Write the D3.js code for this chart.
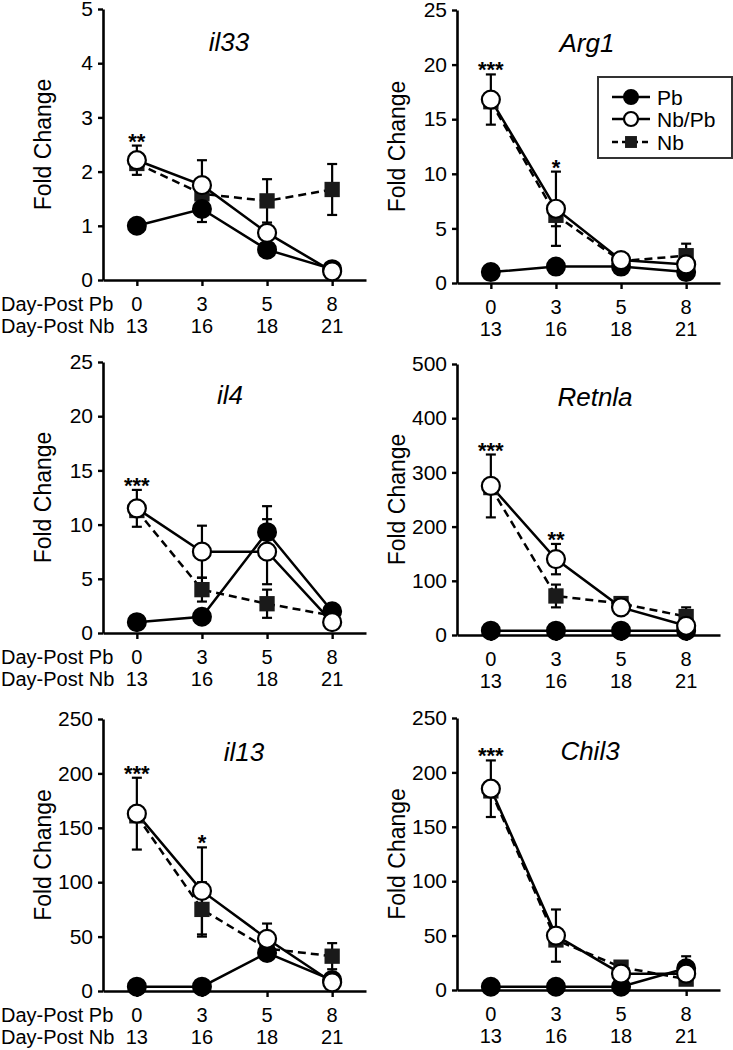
<!DOCTYPE html>
<html>
<head>
<meta charset="utf-8">
<script src="https://cdn.jsdelivr.net/npm/d3@7"></script>
<style>
  html, body { margin: 0; padding: 0; background: #fff; }
  svg { display: block; }
  text { font-family: Arial, "Liberation Sans", Helvetica, sans-serif; fill: #000; }
</style>
</head>
<body>
<svg id="chart" width="733" height="1050"></svg>
<script>
// ---------- DATA ----------
const xPb = ["0", "3", "5", "8"];
const xNb = ["13", "16", "18", "21"];
const genes = ["il33", "Arg1", "il4", "Retnla", "il13", "Chil3"];
const yMax = [5, 25, 25, 500, 250, 250];
const yStep = [1, 5, 5, 100, 50, 50];
const seriesNames = ["Pb", "Nb/Pb", "Nb"];

const pbMean = [
  [1.0, 1.31, 0.56, 0.2],
  [1.0, 1.5, 1.5, 1.0],
  [1.0, 1.5, 9.3, 2.0],
  [8, 8, 8, 8],
  [4, 4, 35, 10],
  [3, 3, 3, 20]
];
const pbErr = [
  [0, 0.24, 0.05, 0.05],
  [0.1, 0.2, 0.2, 0.1],
  [0.1, 0.2, 2.4, 0.3],
  [2, 2, 2, 2],
  [1, 1, 3, 2],
  [1, 1, 1, 11]
];
const nbpbMean = [
  [2.21, 1.75, 0.87, 0.16],
  [16.8, 6.8, 2.1, 1.7],
  [11.5, 7.5, 7.5, 1.0],
  [275, 140, 51, 17],
  [163, 92, 48, 8],
  [185, 50, 15, 15]
];
const nbpbErr = [
  [0.27, 0.46, 0.05, 0.05],
  [2.3, 3.4, 0.3, 0.3],
  [1.7, 2.4, 3.0, 0.2],
  [58, 28, 5, 5],
  [33, 40, 14, 2],
  [26, 24, 3, 3]
];
const nbMean = [
  [2.15, 1.59, 1.46, 1.67],
  [16.6, 6.2, 2.0, 2.5],
  [11.3, 4.0, 2.7, 1.6],
  [272, 72, 58, 34],
  [161, 75, 39, 32],
  [183, 46, 21, 10]
];
const nbErr = [
  [0.1, 0.1, 0.4, 0.47],
  [0.5, 1.0, 0.3, 1.1],
  [0.5, 1.1, 1.3, 0.2],
  [10, 21, 5, 17],
  [5, 25, 5, 12],
  [5, 5, 3, 3]
];
// significance stars above Nb/Pb error bar, per time point
const stars = [
  ["**", "", "", ""],
  ["***", "*", "", ""],
  ["***", "", "", ""],
  ["***", "**", "", ""],
  ["***", "*", "", ""],
  ["***", "", "", ""]
];

// ---------- LAYOUT ----------
const colX = [[103, 366], [457, 720]];
const panelTop = [9, 10, 362, 364, 719, 718];
const panelBottom = [280, 283, 633, 635, 991, 990];
const titleX = [229, 587, 230, 595, 244, 590];

const svg = d3.select("#chart");

function drawMarker(g, type, cx, cy, size) {
  if (type === "Pb") {
    g.append("circle").attr("cx", cx).attr("cy", cy).attr("r", size)
      .attr("fill", "#000").attr("stroke", "#000").attr("stroke-width", 2);
  } else if (type === "Nb/Pb") {
    g.append("circle").attr("cx", cx).attr("cy", cy).attr("r", size)
      .attr("fill", "#fff").attr("stroke", "#000").attr("stroke-width", 2.2);
  } else {
    const s = size * 1.7;
    g.append("rect").attr("x", cx - s / 2).attr("y", cy - s / 2)
      .attr("width", s).attr("height", s).attr("fill", "#1a1a1a");
  }
}

genes.forEach((gene, i) => {
  const col = i % 2;
  const [x0, x1] = colX[col];
  const top = panelTop[i], bottom = panelBottom[i];

  const x = d3.scalePoint().domain(xPb).range([x0, x1]).padding(0.52);
  const y = d3.scaleLinear().domain([0, yMax[i]]).range([bottom, top]);

  const g = svg.append("g");

  // y axis
  const yAxis = d3.axisLeft(y)
    .tickValues(d3.range(0, yMax[i] + yStep[i] / 2, yStep[i]))
    .tickFormat(d3.format("d"))
    .tickSize(5).tickSizeOuter(0).tickPadding(5);
  const ya = g.append("g").attr("transform", `translate(${x0},0)`).call(yAxis);
  ya.selectAll("path").attr("stroke", "#000").attr("stroke-width", 2.6);
  ya.selectAll("line").attr("stroke", "#000").attr("stroke-width", 2.4);
  ya.selectAll("text").attr("font-size", 21).attr("fill", "#000")
    .style("font-family", "Arial, 'Liberation Sans', sans-serif");

  // x axis
  const xAxis = d3.axisBottom(x).tickSize(6).tickSizeOuter(0).tickFormat("");
  const xa = g.append("g").attr("transform", `translate(0,${bottom})`).call(xAxis);
  xa.selectAll("path").attr("stroke", "#000").attr("stroke-width", 2.6);
  xa.selectAll("line").attr("stroke", "#000").attr("stroke-width", 2.4);

  // x labels (two rows)
  xPb.forEach((lab, k) => {
    g.append("text").attr("x", x(lab)).attr("y", bottom + 31)
      .attr("text-anchor", "middle").attr("font-size", 20).text(lab);
    g.append("text").attr("x", x(lab)).attr("y", bottom + 53)
      .attr("text-anchor", "middle").attr("font-size", 20).text(xNb[k]);
  });
  if (col === 0) {
    g.append("text").attr("x", 1).attr("y", bottom + 31)
      .attr("font-size", 20).text("Day-Post Pb");
    g.append("text").attr("x", 1).attr("y", bottom + 53)
      .attr("font-size", 20).text("Day-Post Nb");
  }

  // y label
  const ymid = (top + bottom) / 2;
  g.append("text")
    .attr("transform", `translate(${x0 - 52},${ymid}) rotate(-90)`)
    .attr("text-anchor", "middle").attr("font-size", 23).text("Fold Change");

  // title
  g.append("text").attr("x", titleX[i]).attr("y", top + 42)
    .attr("text-anchor", "middle").attr("font-size", 26)
    .attr("font-style", "italic").text(gene);

  const series = [
    { name: "Nb", mean: nbMean[i], err: nbErr[i], dash: "8,5" },
    { name: "Pb", mean: pbMean[i], err: pbErr[i], dash: null },
    { name: "Nb/Pb", mean: nbpbMean[i], err: nbpbErr[i], dash: null }
  ];

  const line = d3.line().x((d, k) => x(xPb[k])).y(d => y(d));

  // error bars (behind)
  series.forEach(s => {
    s.mean.forEach((m, k) => {
      const e = s.err[k];
      if (e <= 0) return;
      const cx = x(xPb[k]);
      const eg = g.append("g").attr("stroke", "#000").attr("stroke-width", 2.2);
      eg.append("line").attr("x1", cx).attr("x2", cx).attr("y1", y(m - e)).attr("y2", y(m + e));
      eg.append("line").attr("x1", cx - 5).attr("x2", cx + 5).attr("y1", y(m + e)).attr("y2", y(m + e));
      eg.append("line").attr("x1", cx - 5).attr("x2", cx + 5).attr("y1", y(m - e)).attr("y2", y(m - e));
    });
  });

  // lines & markers
  series.forEach(s => {
    g.append("path").datum(s.mean).attr("d", line)
      .attr("fill", "none").attr("stroke", "#000").attr("stroke-width", 2.5)
      .attr("stroke-dasharray", s.dash);
  });
  series.forEach(s => {
    s.mean.forEach((m, k) => drawMarker(g, s.name, x(xPb[k]), y(m), 9));
  });

  // stars
  stars[i].forEach((st, k) => {
    if (!st) return;
    const capY = y(nbpbMean[i][k] + nbpbErr[i][k]);
    g.append("text").attr("x", x(xPb[k])).attr("y", capY + 3)
      .attr("text-anchor", "middle").attr("font-size", 22).attr("font-weight", "bold")
      .text(st);
  });
});

// ---------- LEGEND ----------
const lg = svg.append("g");
lg.append("rect").attr("x", 598).attr("y", 77).attr("width", 134).attr("height", 81)
  .attr("fill", "#fff").attr("stroke", "#333").attr("stroke-width", 2);
const legY = [97, 119, 142];
seriesNames.forEach((nm, k) => {
  lg.append("line").attr("x1", 612).attr("x2", 650).attr("y1", legY[k]).attr("y2", legY[k])
    .attr("stroke", "#000").attr("stroke-width", 2.5)
    .attr("stroke-dasharray", nm === "Nb" ? "6,4" : null);
  drawMarker(lg, nm, 631, legY[k], 7);
  lg.append("text").attr("x", 657).attr("y", legY[k] + 7.5).attr("font-size", 21).text(nm);
});
</script>
</body>
</html>
